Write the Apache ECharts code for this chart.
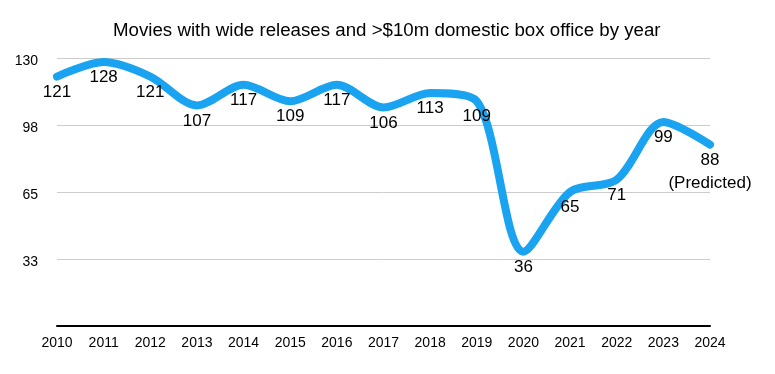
<!DOCTYPE html>
<html>
<head>
<meta charset="utf-8">
<script src="https://cdn.jsdelivr.net/npm/echarts@6/dist/echarts.min.js"></script>
<style>html,body{margin:0;padding:0;background:#fff}#c{width:775px;height:374px}</style>
</head>
<body>
<div id="c"></div>
<script>
const years = ['2010','2011','2012','2013','2014','2015','2016','2017','2018','2019','2020','2021','2022','2023','2024'];
const movies = [121,128,121,107,117,109,117,106,113,109,36,65,71,99,88];
const labelNotes = {'2024':'(Predicted)'};
const titleText = 'Movies with wide releases and >$10m domestic box office by year';

const chart = echarts.init(document.getElementById('c'));
chart.setOption({
  backgroundColor:'#fff',
  animation:false,
  title:{text:titleText,left:108,top:16,textStyle:{fontFamily:'Liberation Sans',fontSize:18.7,fontWeight:'normal',color:'#000'}},
  grid:{left:57,right:65,top:58,bottom:48},
  xAxis:{type:'category',data:years,boundaryGap:false,
    axisLine:{lineStyle:{color:'#000',width:2}},axisTick:{show:false},
    axisLabel:{fontFamily:'Liberation Sans',fontSize:14,color:'#000',margin:10,interval:0},
    splitLine:{show:false}},
  yAxis:{type:'value',min:0,max:130,interval:32.5,
    axisLine:{show:false},axisTick:{show:false},
    axisLabel:{fontFamily:'Liberation Sans',fontSize:14,color:'#000',margin:19,showMinLabel:false,
      formatter:v=>'{a|'+Math.round(v)+'}',
      rich:{a:{fontFamily:'Liberation Sans',fontSize:14,color:'#000',padding:[6,0,0,0]}}},
    splitLine:{lineStyle:{color:'#cccccc',width:1}}},
  series:[{type:'line',data:movies,smooth:0.3,symbol:'circle',symbolSize:2,showSymbol:true,showAllSymbol:true,
    itemStyle:{color:'#1aa3f0'},
    lineStyle:{color:'#1aa3f0',width:8,cap:'round'},
    label:{show:true,position:'bottom',distance:3,fontFamily:'Liberation Sans',fontSize:17,color:'#000',lineHeight:23,
      formatter:p=>labelNotes[p.name]?p.value+'\n'+labelNotes[p.name]:String(p.value)}}]
});
</script>
</body>
</html>
